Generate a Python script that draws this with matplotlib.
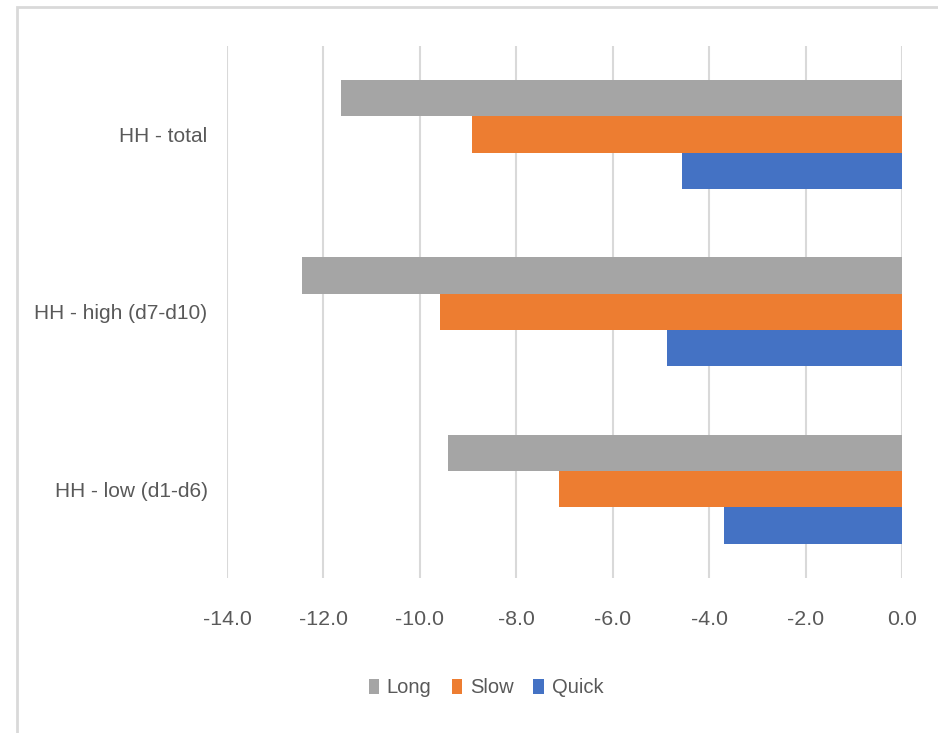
import matplotlib

matplotlib.use("Agg")
import matplotlib.pyplot as plt  # noqa: E402
import numpy as np  # noqa: E402
from matplotlib.patches import Rectangle  # noqa: E402

# --- data (bottom to top) ---------------------------------------------------
categories = ["HH - low (d1-d6)", "HH - high (d7-d10)", "HH - total"]
long_vals = [-9.41, -12.45, -11.63]
slow_vals = [-7.11, -9.59, -8.93]
quick_vals = [-3.69, -4.87, -4.56]
series_names = ["Long", "Slow", "Quick"]
x_ticks = [-14.0, -12.0, -10.0, -8.0, -6.0, -4.0, -2.0, 0.0]

# --- styling ----------------------------------------------------------------
_GRAY = "#A5A5A5"
_ORANGE = "#ED7D31"
_BLUE = "#4472C4"
_TXT = "#595959"
_GRID = "#D9D9D9"

plt.rcParams["font.family"] = ["Liberation Sans", "DejaVu Sans"]

fig = plt.figure(figsize=(9.38, 7.33), dpi=100)
ax = fig.add_axes([0.242, 0.2115, 0.720, 0.7262])

y = np.arange(len(categories))
h = 0.205
ax.barh(y + h, long_vals, height=h, color=_GRAY, label=series_names[0], zorder=2)
ax.barh(y, slow_vals, height=h, color=_ORANGE, label=series_names[1], zorder=2)
ax.barh(y - h, quick_vals, height=h, color=_BLUE, label=series_names[2], zorder=2)

ax.set_xlim(-14, 0)
ax.set_ylim(-0.5, 2.5)
ax.set_xticks(x_ticks)
ax.set_xticklabels([f"{t:.1f}" for t in x_ticks])
ax.set_yticks(y)
ax.set_yticklabels(categories)
ax.tick_params(axis="x", length=0, pad=23, labelsize=15.4, labelcolor=_TXT)
ax.tick_params(axis="y", length=0, pad=14, labelsize=15, labelcolor=_TXT)
ax.grid(True, axis="x", color=_GRID, lw=1.5, zorder=0)
ax.set_axisbelow(True)
for s in ax.spines.values():
    s.set_visible(False)

fig.legend(loc="center", bbox_to_anchor=(0.518, 0.0614), ncol=3, frameon=False,
           fontsize=14.5, labelcolor=_TXT, handlelength=0.5, handleheight=0.75,
           handletextpad=0.4, columnspacing=1.0)

# light chart-area border as in the spreadsheet export
fig.patches.append(Rectangle((17 / 938, -0.05), 1.1, 1 - 7 / 733 + 0.05,
                             transform=fig.transFigure, fill=False,
                             edgecolor=_GRID, lw=2))

fig.savefig("out.png", dpi=100)
plt.close(fig)
